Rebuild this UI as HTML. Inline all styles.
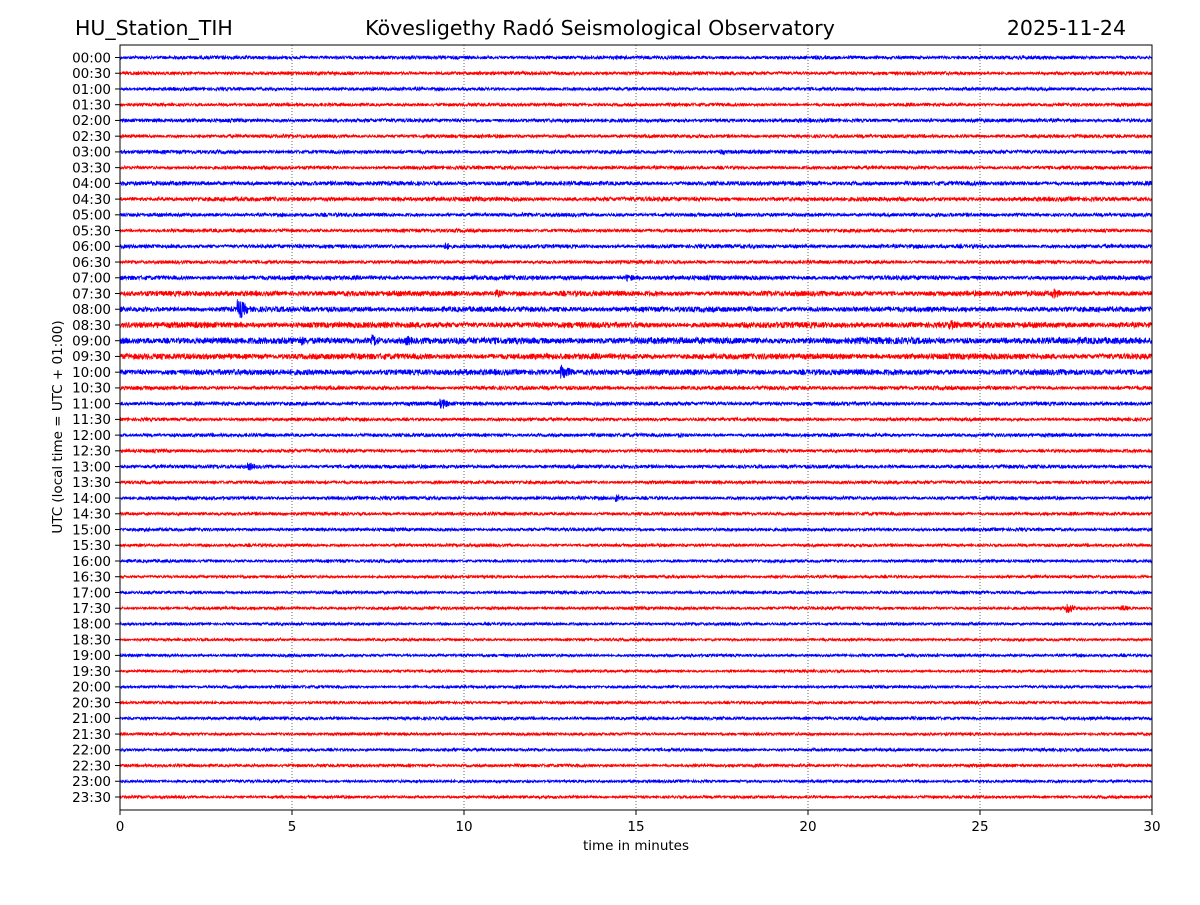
<!DOCTYPE html>
<html><head><meta charset="utf-8">
<style>
body{margin:0;background:#fff;}
svg text{font-family:"DejaVu Sans","Liberation Sans",sans-serif;fill:#000;}
</style></head>
<body>
<svg id="chart" width="1200" height="900" xmlns="http://www.w3.org/2000/svg">
<text x="75" y="35" font-size="20.5">HU_Station_TIH</text>
<text x="600" y="35" font-size="20.5" text-anchor="middle">Kövesligethy Radó Seismological Observatory</text>
<text x="1126" y="35" font-size="20.5" text-anchor="end">2025-11-24</text>
<g id="grid"></g>
<g id="traces"></g>
<rect x="120" y="45" width="1032" height="765" fill="none" stroke="#000" stroke-width="1"/>
<g id="axes"></g>
<text x="636" y="850" font-size="13.5" text-anchor="middle">time in minutes</text>
<text transform="translate(62,427) rotate(-90)" font-size="13.5" text-anchor="middle">UTC (local time = UTC + 01:00)</text>
</svg>
<script>
// data
const traceLabels = [];
for (let h = 0; h < 24; h++) { const hh = String(h).padStart(2,'0'); traceLabels.push(hh+':00', hh+':30'); }
const xTicks = [0,5,10,15,20,25,30];
const noiseLevel = [1.8,1.8,1.7,1.7,1.9,1.8,1.9,1.8,2.2,2.2,1.9,1.8,2.0,1.8,2.3,2.7,2.7,3.0,3.4,3.0,3.0,2.0,2.0,1.7,1.8,1.8,1.9,1.7,1.8,1.7,1.7,1.6,1.6,1.5,1.6,1.6,1.5,1.4,1.5,1.4,1.5,1.5,1.7,1.5,1.6,1.6,1.5,1.5];
const eventTrace = [16,18,18,18,20,22,26,28,17,15,6,14,35,24,12,35,15];
const eventMinute = [3.5,5.3,7.4,8.4,12.9,9.4,3.8,14.5,24.2,27.2,17.5,14.8,27.6,16.3,9.5,29.2,11.0];
const eventAmp = [10,5,6,5,8,5,4,4,5,5,3,4,5,3,4,3,4];

const X0=120, X1=1152, Y0=57.5, DY=(797-57.5)/47;
const xScale = m => X0 + (m/30)*(X1-X0);
const yScale = i => Y0 + i*DY;
const NS='http://www.w3.org/2000/svg';
function mk(tag, attrs, parent){ const e=document.createElementNS(NS,tag); for(const k in attrs) e.setAttribute(k,attrs[k]); parent.appendChild(e); return e; }

const grid=document.getElementById('grid'), axes=document.getElementById('axes'), tr=document.getElementById('traces');
xTicks.forEach(t=>{
  const x=xScale(t);
  if(t>0&&t<30){ const l=mk('line',{x1:x,x2:x,y1:45,y2:810,stroke:'#000','stroke-width':0.6,'stroke-dasharray':'1,2'},grid);
      }
  const tk=mk('line',{x1:x,x2:x,y1:810,y2:815,stroke:'#000'},axes);
   
  const tx=mk('text',{x:x,y:831,'font-size':13.5,'text-anchor':'middle'},axes); tx.textContent=t;
   
});
traceLabels.forEach((lab,i)=>{
  const y=yScale(i);
  const tk=mk('line',{x1:115,x2:120,y1:y,y2:y,stroke:'#000'},axes);
   
  const tx=mk('text',{x:111,y:y+4.8,'font-size':13.5,'text-anchor':'end'},axes); tx.textContent=lab;
   
});
// deterministic noise texture
let seed=12345; const rnd=()=>{ seed=(seed*1103515245+12345)&0x7fffffff; return seed/0x7fffffff*2-1; };
const N=4000;
traceLabels.forEach((lab,i)=>{
  const y=yScale(i); let d='';
  for(let k=0;k<=N;k++){
    const m=30*k/N;
    let a=noiseLevel[i]*(0.75+0.25*Math.abs(Math.sin(k*0.004+i*1.7)));
    for(let e=0;e<eventTrace.length;e++){
      if(eventTrace[e]===i){ const dm=m-eventMinute[e]; if(dm>-0.1&&dm<0.8) a=Math.max(a, eventAmp[e]*Math.exp(-Math.max(dm,0)*4)); }
    }
    const v=y+rnd()*a;
    d+=(k?'L':'M')+xScale(m).toFixed(1)+' '+v.toFixed(1);
  }
  const p=mk('path',{d:d,fill:'none',stroke:i%2?'#ff0000':'#0000ff','stroke-width':0.8},tr);
  
  
});
</script>
</body></html>
